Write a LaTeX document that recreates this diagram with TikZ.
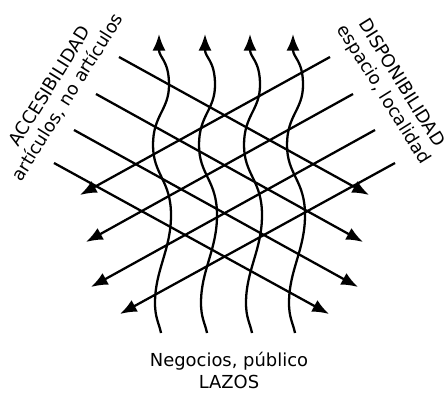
\documentclass[tikz,border=0pt]{standalone}
\usepackage{fontspec}
\setmainfont{DejaVu Sans}
\usepackage{tikz}
\usetikzlibrary{arrows.meta}

\begin{document}
\begin{tikzpicture}[x=0.02cm,y=-0.02cm,
  flow/.style={-{Latex[length=9.5pt,width=7.5pt]},line width=1.3pt},
  lbl/.style={font=\fontsize{10.2}{12}\selectfont,align=center,inner sep=0pt}]
\useasboundingbox (0,0) rectangle (448,394);
\node[lbl,rotate=58] (ac) at (59,92) {ACCESIBILIDAD\\artículos, no artículos};
\node[lbl,rotate=-58] (di) at (392,89) {DISPONIBILIDAD\\espacio, localidad};
\node[lbl,font=\fontsize{10.2}{12.5}\selectfont] (la) at (229,370) {Negocios, público\\LAZOS};
\coordinate (ac1) at (119,57);  \coordinate (ac1e) at (369,195);
\coordinate (ac2) at (96,94);   \coordinate (ac2e) at (363,242);
\coordinate (ac3) at (74,130);  \coordinate (ac3e) at (358,287);
\coordinate (ac4) at (54,163);  \coordinate (ac4e) at (329,314);
\coordinate (di1) at (330,57);  \coordinate (di1e) at (80,195);
\coordinate (di2) at (353,94);  \coordinate (di2e) at (86,242);
\coordinate (di3) at (375,130); \coordinate (di3e) at (91,287);
\coordinate (di4) at (395,163); \coordinate (di4e) at (120,314);
\draw[flow] (ac1) -- (ac1e);
\draw[flow] (ac2) -- (ac2e);
\draw[flow] (ac3) -- (ac3e);
\draw[flow] (ac4) -- (ac4e);
\draw[flow] (di1) -- (di1e);
\draw[flow] (di2) -- (di2e);
\draw[flow] (di3) -- (di3e);
\draw[flow] (di4) -- (di4e);
% wavy arrows (lazos)
\coordinate (la1) at (161,333); \coordinate (la1e) at (159,34);
\coordinate (la2) at (207,333); \coordinate (la2e) at (205,34);
\coordinate (la3) at (252,333); \coordinate (la3e) at (250,34);
\coordinate (la4) at (295,333); \coordinate (la4e) at (293,34);
\draw[flow] (la1) .. controls (159,323) and (155,318) .. (155,303) .. controls (155,270) and (171,250) .. (171,215) .. controls (171,180) and (153,175) .. (153,145) .. controls (153,115) and (169,110) .. (169,85) .. controls (169,60) and (159,58) .. (la1e);
\draw[flow] (la2) .. controls (205,323) and (201,318) .. (201,303) .. controls (201,270) and (217,250) .. (217,215) .. controls (217,180) and (199,175) .. (199,145) .. controls (199,115) and (215,110) .. (215,85) .. controls (215,60) and (205,58) .. (la2e);
\draw[flow] (la3) .. controls (250,323) and (246,318) .. (246,303) .. controls (246,270) and (262,250) .. (262,215) .. controls (262,180) and (244,175) .. (244,145) .. controls (244,115) and (260,110) .. (260,85) .. controls (260,60) and (250,58) .. (la3e);
\draw[flow] (la4) .. controls (293,323) and (289,318) .. (289,303) .. controls (289,270) and (305,250) .. (305,215) .. controls (305,180) and (287,175) .. (287,145) .. controls (287,115) and (303,110) .. (303,85) .. controls (303,60) and (293,58) .. (la4e);
\end{tikzpicture}
\end{document}
